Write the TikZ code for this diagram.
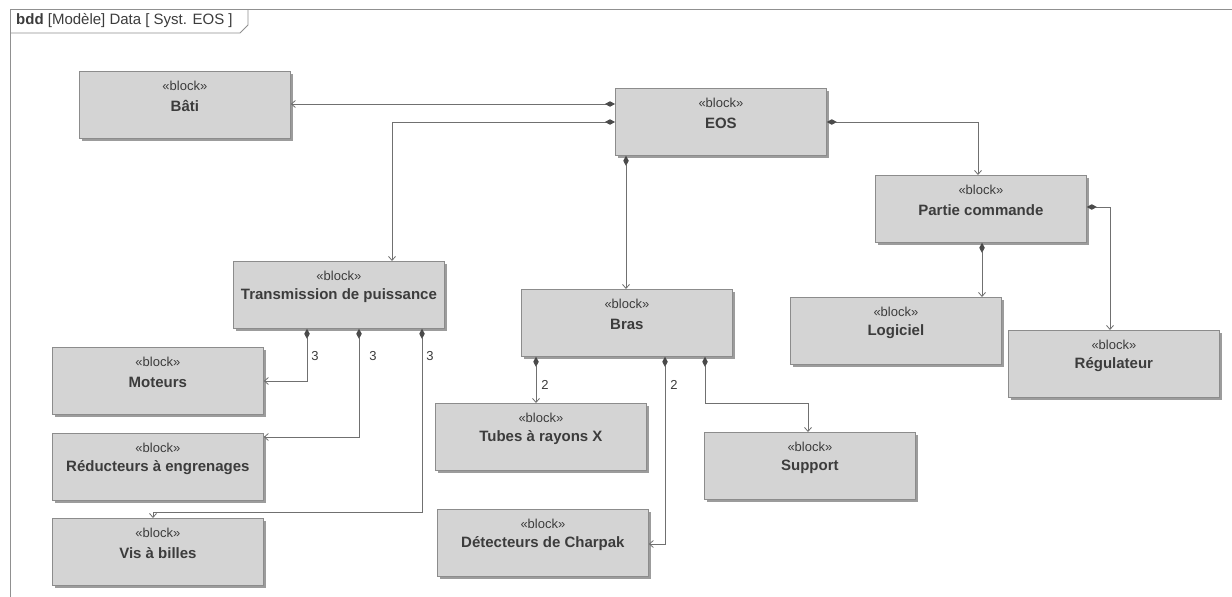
\documentclass[tikz,border=0pt]{standalone}
\usepackage{fontspec}
\setmainfont{Liberation Sans}
\usetikzlibrary{arrows.meta,shadows}
\definecolor{boxfill}{HTML}{D4D4D4}
\definecolor{boxline}{HTML}{8C8C8C}
\definecolor{txt}{HTML}{3C3C3C}
\definecolor{wire}{HTML}{707070}
\definecolor{shade}{HTML}{9C9C9C}
\definecolor{dkd}{HTML}{4A4A4A}
\definecolor{framec}{HTML}{909090}
\newcommand\sysblock[4]{%
  \node[blk] (#1) at (#2,#3) {};
  \node[stereo] (#1-st) at ([yshift=-15pt]#1.north) {«block»};
  \node[bname] (#1-nm) at ([yshift=-35pt]#1.north) {#4};
}
\begin{document}
\begin{tikzpicture}[x=1pt,y=-1pt,
  blk/.style={draw=boxline, fill=boxfill, line width=0.8pt, minimum width=211pt,
    minimum height=67pt, anchor=north west, inner sep=0pt,
    drop shadow={shadow xshift=2.5pt, shadow yshift=-2.5pt, fill=shade, opacity=1}},
  stereo/.style={text=txt, font=\fontsize{13}{15}\selectfont, inner sep=0pt},
  bname/.style={text=txt, font=\fontsize{15}{17}\selectfont\bfseries, inner sep=0pt},
  mult/.style={text=txt, font=\fontsize{13}{15}\selectfont, inner sep=0pt},
  comp/.style={draw=wire, line width=0.9pt,
    {Diamond[length=10pt,width=5.5pt,fill=dkd,color=dkd]}-{Straight Barb[length=4pt,width=7pt,line width=0.8pt]}},
  framel/.style={draw=framec, line width=0.9pt}
]
\useasboundingbox (0,0) rectangle (1232,597);
\fill[white] (0,0) rectangle (1232,597);
% frame
\draw[framel] (10,597) -- (10,9) -- (1232,9);
\draw[framel] (10,33) -- (240,33) -- (248,25) -- (248,9);
\node[anchor=west, text=txt, inner sep=0pt, font=\fontsize{15}{17}\selectfont] (hdr) at (16,21)
  {\textbf{bdd} [Modèle] Data [ Syst. EOS ]};

% blocks
\sysblock{bati}{79}{71}{Bâti}
\sysblock{eos}{615}{88}{EOS}
\sysblock{partie}{875}{175}{Partie commande}
\sysblock{logiciel}{790}{297}{Logiciel}
\sysblock{regul}{1008}{330}{Régulateur}
\sysblock{trans}{233}{261}{Transmission de puissance}
\sysblock{moteurs}{52}{347}{Moteurs}
\sysblock{reduc}{52}{433}{Réducteurs à engrenages}
\sysblock{vis}{52}{518}{Vis à billes}
\sysblock{bras}{521}{289}{Bras}
\sysblock{tubes}{435}{403}{Tubes à rayons X}
\sysblock{detect}{437}{509}{Détecteurs de Charpak}
\sysblock{support}{704}{432}{Support}

% connectors
\draw[comp] (eos.west |- 0,104) -- (bati.east |- 0,104);
\draw[comp] (eos.west |- 0,122) -| (trans.north -| 392,0);
\draw[comp] (eos.east |- 0,122) -| (partie.north -| 978,0);
\draw[comp] (eos.south -| 626,0) -- (bras.north -| 626,0);
\draw[comp] (partie.south -| 982,0) -- (logiciel.north -| 982,0);
\draw[comp] (partie.east |- 0,207) -| (regul.north -| 1110,0);
\draw[comp] (trans.south -| 307,0) |- (moteurs.east |- 0,381);
\draw[comp] (trans.south -| 359,0) |- (reduc.east |- 0,437);
\draw[comp] (trans.south -| 422,0) |- (153,512) -- (vis.north -| 153,0);
\draw[comp] (bras.south -| 536,0) -- (tubes.north -| 536,0);
\draw[comp] (bras.south -| 665,0) |- (detect.east |- 0,544);
\draw[comp] (bras.south -| 705,0) |- (808,403) -- (support.north -| 808,0);

% multiplicities
\node[mult] (m1) at (315,356) {3};
\node[mult] (m2) at (373,356) {3};
\node[mult] (m3) at (430,356) {3};
\node[mult] (m4) at (545,385) {2};
\node[mult] (m5) at (674,385) {2};
\end{tikzpicture}
\end{document}
